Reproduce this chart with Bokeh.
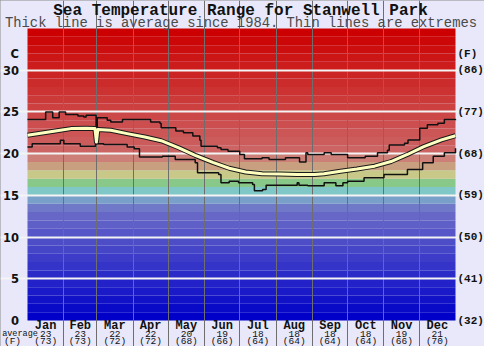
from bokeh.plotting import figure
from bokeh.models import Range1d, FixedTicker, Grid
from bokeh.core.properties import value
from bokeh.embed import file_html
from bokeh.resources import INLINE

# ---------------- data ----------------
months = ["Jan", "Feb", "Mar", "Apr", "May", "Jun", "Jul", "Aug", "Sep", "Oct", "Nov", "Dec"]
month_days = [31, 28, 31, 30, 31, 30, 31, 31, 30, 31, 30, 31]
avg_c = [23, 23, 22, 22, 20, 19, 18, 18, 18, 18, 19, 21]
avg_f = [73, 73, 72, 72, 68, 66, 64, 64, 64, 64, 66, 70]

c_ticks = [0, 5, 10, 15, 20, 25, 30]
c_labels = ["0", "5", "10", "15", "20", "25", "30"]
f_labels = ["(32)", "(41)", "(50)", "(59)", "(68)", "(77)", "(86)"]
unit_c, unit_f, unit_level = "C", "(F)", 32

title = "Sea Temperature Range for Stanwell Park"
subtitle = "Thick line is average since 1984. Thin lines are extremes"

# average temperature (day of year, deg C)
avg_day = [0, 14, 28, 37, 50, 57.5, 58.8, 60, 71, 85, 100, 114, 129, 143, 158, 172, 186, 200,
           215, 230, 245, 253, 267, 281, 296, 310, 324, 338, 353, 365]
avg_temp = [22.2, 22.5, 22.8, 23.0, 23.05, 23.0, 21.4, 22.9, 22.8, 22.4, 22.0, 21.55, 20.7, 19.8,
            18.95, 18.25, 17.8, 17.6, 17.55, 17.5, 17.5, 17.6, 17.9, 18.15, 18.5, 19.05, 19.9,
            20.85, 21.65, 22.15]

# highest extreme (step starts)
max_day = [0, 15.5, 21.5, 27, 32.5, 43, 48, 50, 58.5, 59.5, 68, 71, 81, 105, 113, 114, 126.5, 133,
           141, 147, 148, 162, 165, 171, 181, 185, 200, 206, 220, 232, 237.5, 239, 253, 259, 273,
           288, 298.5, 307, 308.5, 321.5, 324.5, 334.5, 341, 350, 355.5, 365]
max_temp = [24.1, 25.0, 24.3, 25.0, 24.7, 24.5, 24.4, 24.6, 22.8, 24.3, 24.0, 23.8, 24.1, 23.8,
            23.6, 23.1, 22.7, 22.5, 22.1, 21.6, 20.9, 20.7, 20.5, 20.3, 19.9, 19.4, 19.5, 19.3,
            19.5, 19.0, 20.1, 19.9, 20.1, 19.9, 19.5, 19.7, 20.1, 20.4, 21.05, 21.25, 21.65,
            23.05, 23.45, 23.65, 24.1, 24.0]

# lowest extreme (step starts)
min_day = [0, 4, 28, 31, 45, 58, 65, 85, 91, 95.5, 115, 126, 143, 145, 163, 165, 172, 180, 192,
           193.5, 200.5, 203.5, 230, 231.5, 239, 253, 263, 269, 273, 287, 304, 324, 337, 346,
           355.5, 365]
min_temp = [20.8, 21.2, 21.6, 21.2, 20.9, 21.2, 21.1, 20.8, 20.6, 19.6, 19.7, 19.3, 18.9, 17.7,
            17.5, 16.5, 16.7, 16.5, 16.3, 15.55, 15.7, 16.2, 16.5, 16.2, 16.15, 16.5, 16.15, 16.5,
            16.7, 17.1, 17.5, 18.1, 18.9, 19.7, 20.1, 20.65]

# colour bands, one per degree from 0 to 35
band_bottoms = list(range(35))
band_colors = [
    "#0000c8", "#0909c8", "#1111c8", "#1a1ac8", "#2222c8", "#2b2bc8", "#3434c8", "#3c3cc8",
    "#4545c8", "#4d4dc8", "#5656c8", "#5f5fc8", "#6767c8", "#7078c8", "#78a0c8", "#80c8c8",
    "#88c888", "#c8c888", "#c8a080", "#cd8078", "#cc6464", "#cc5c5c", "#cc5555", "#cc4e4e",
    "#cc4747", "#cc4040", "#cc3939", "#cc3232", "#cc2b2b", "#cc2424", "#cc1c1c", "#cc1515",
    "#cc0e0e", "#cc0707", "#cc0000",
]

# ---------------- layout (pixels) ----------------
W, H = 484, 346
PLOT_L, PLOT_W = 27, 428       # left edge / width of the temperature area
PLOT_B, PLOT_H = 26, 292       # distance from bottom / height of the temperature area
DAYS, TMAX = 365, 35
PX_X = PLOT_W / DAYS
PX_Y = PLOT_H / TMAX


def fx(px):      # figure pixel (from left) -> data x
    return (px - PLOT_L) / PX_X


def fy(px):      # figure pixel (from top) -> data y
    return (H - PLOT_B - px) / PX_Y


bounds = []
acc = 0
for d in month_days:
    acc += d
    bounds.append(acc)
month_starts = [0] + bounds[:-1]
centers = [(s + e) / 2 for s, e in zip(month_starts, bounds)]

BG = "#e8e8fa"
INK = "#111111"
p = figure(width=W, height=H, output_backend="svg", toolbar_location=None,
           x_range=Range1d(fx(0), fx(W)), y_range=Range1d(fy(H), fy(0)),
           x_axis_location=None, y_axis_location=None, min_border=0,
           border_fill_color=BG, background_fill_color=BG, outline_line_color=None)
p.title.visible = False
p.grid.visible = False
p.styles = {"outline": "1px solid #8c8c8c", "outline-offset": "-1px"}

p.quad(left=0, right=DAYS, bottom=band_bottoms, top=[b + 1 for b in band_bottoms],
       fill_color=band_colors, line_color=None, level="image")

# grid lines limited to the temperature area
p.add_layout(Grid(dimension=0, ticker=FixedTicker(ticks=bounds[:-1]), bounds=(0, TMAX),
                  grid_line_color="#6e6e6e", grid_line_width=1))
p.add_layout(Grid(dimension=1, ticker=FixedTicker(ticks=c_ticks[1:]), bounds=(0, DAYS),
                  grid_line_color="#f4f4f4", grid_line_width=2))

# data lines
p.step(max_day, max_temp, mode="after", line_color=INK, line_width=1.5)
p.step(min_day, min_temp, mode="after", line_color=INK, line_width=1.5)
p.line(avg_day, avg_temp, line_color="#1a1a1a", line_width=5, line_join="round")
p.line(avg_day, avg_temp, line_color="#ffffc0", line_width=3, line_join="round")

MONO = value("Liberation Mono")

# left (C) scale
p.text(x=fx(18.5), y=c_ticks + [unit_level], text=c_labels + [unit_c],
       text_font=value("DejaVu Sans"), text_font_style="bold", text_font_size="11.5px",
       text_align="right", text_baseline="middle", text_color=INK)
# right (F) scale
p.text(x=fx(457), y=c_ticks + [unit_level], text=f_labels + [unit_f],
       text_font=MONO, text_font_style="bold", text_font_size="11px",
       text_align="left", text_baseline="middle", text_color=INK)

# month rows
p.text(x=centers, y=fy(325.5), text=months, text_font=MONO, text_font_style="bold",
       text_font_size="12px", text_align="center", text_baseline="middle", text_color=INK)
p.text(x=centers, y=fy(333.5), text=[str(v) for v in avg_c], text_font=MONO,
       text_font_size="9.5px", text_align="center", text_baseline="middle", text_color=INK)
p.text(x=centers, y=fy(340.5), text=["(%d)" % v for v in avg_f], text_font=MONO,
       text_font_size="9.5px", text_align="center", text_baseline="middle", text_color=INK)
p.text(x=[fx(19.5)], y=[fy(333.5)], text=["average"], text_font=MONO, text_font_size="8.5px",
       text_align="center", text_baseline="middle", text_color=INK)
p.text(x=[fx(12)], y=[fy(340.5)], text=[unit_f], text_font=MONO, text_font_size="9.5px",
       text_align="center", text_baseline="middle", text_color=INK)

# title and subtitle
p.text(x=[fx(240)], y=[fy(10.5)], text=[title], text_font=MONO, text_font_style="bold",
       text_font_size="16px", text_align="center", text_baseline="middle", text_color=INK)
p.text(x=[fx(240.5)], y=[fy(22.5)], text=[subtitle], text_font=MONO, text_font_size="13.8px",
       text_align="center", text_baseline="middle", text_color="#4a4a4a")

open("out.html", "w").write(file_html(p, INLINE))
